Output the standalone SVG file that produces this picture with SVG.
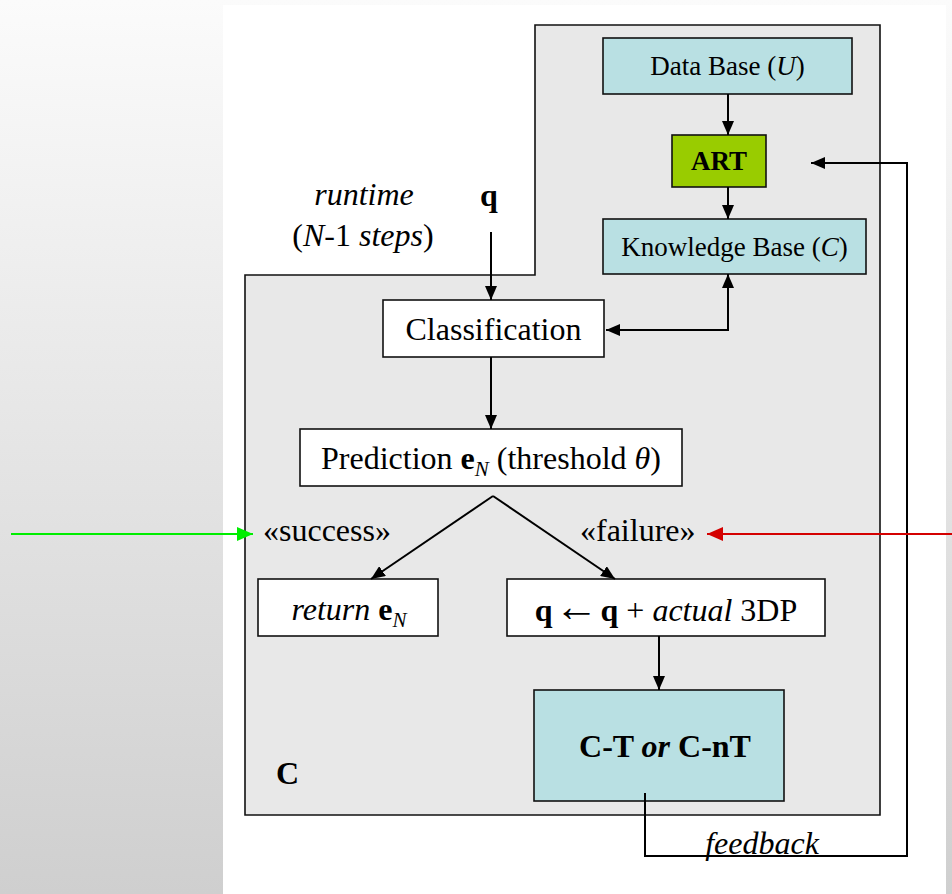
<svg xmlns="http://www.w3.org/2000/svg" width="952" height="894" viewBox="0 0 952 894">
  <defs>
    <linearGradient id="bgGrad" x1="0" y1="0" x2="0" y2="1">
      <stop offset="0" stop-color="#fbfbfb"/>
      <stop offset="1" stop-color="#cfcfcf"/>
    </linearGradient>
    <marker id="arrow" viewBox="0 0 14 12" refX="14" refY="6" markerWidth="14" markerHeight="12" markerUnits="userSpaceOnUse" orient="auto">
      <path d="M0,0 L14,6 L0,12 Z" fill="#000"/>
    </marker>
    <marker id="arrowGreen" viewBox="0 0 16 14" refX="16" refY="7" markerWidth="16" markerHeight="14" markerUnits="userSpaceOnUse" orient="auto">
      <path d="M0,0 L16,7 L0,14 Z" fill="#00ee00"/>
    </marker>
    <marker id="arrowRed" viewBox="0 0 16 14" refX="16" refY="7" markerWidth="16" markerHeight="14" markerUnits="userSpaceOnUse" orient="auto">
      <path d="M0,0 L16,7 L0,14 Z" fill="#d40000"/>
    </marker>
  </defs>
  <style>
    text { font-family: "Liberation Serif", "Times New Roman", serif; fill: #000; }
    .box { fill: #ffffff; stroke: #111; stroke-width: 1.6; }
    .cyan { fill: #b9e0e3; stroke: #111; stroke-width: 1.6; }
    .green { fill: #99cc00; stroke: #111; stroke-width: 1.6; }
    .link { fill: none; stroke: #000; stroke-width: 2; }
    .t27 { font-size: 27px; }
    .t31 { font-size: 32px; }
    .b { font-weight: bold; }
    .i { font-style: italic; }
    .arr { font-size: 44px; font-weight: normal; }
  </style>

  <!-- page background -->
  <rect x="0" y="0" width="952" height="894" fill="url(#bgGrad)"/>
  <rect x="223" y="5" width="723" height="889" fill="#ffffff"/>

  <!-- component C container -->
  <g id="container-C">
    <path d="M245,275 L535,275 L535,25 L880,25 L880,815 L245,815 Z" fill="#e8e8e8" stroke="#111" stroke-width="1.6"/>
    <text class="t31 b" x="276" y="784">C</text>
  </g>

  <g id="runtime-label">
    <text class="t31 i" x="364" y="205" text-anchor="middle">runtime</text>
    <text class="t31" x="363" y="246" text-anchor="middle">(<tspan class="i">N</tspan>-1 <tspan class="i">steps</tspan>)</text>
  </g>

  <g id="query-label">
    <text class="t31 b" x="489" y="206" text-anchor="middle">q</text>
  </g>

  <g id="database">
    <rect class="cyan" x="603" y="38" width="249" height="56"/>
    <text class="t27" x="727.5" y="75" text-anchor="middle">Data Base (<tspan class="i">U</tspan>)</text>
  </g>

  <g id="art">
    <rect class="green" x="672" y="135" width="94" height="52"/>
    <text class="t27 b" x="719" y="170" text-anchor="middle">ART</text>
  </g>

  <g id="knowledge-base">
    <rect class="cyan" x="603" y="219" width="263" height="55"/>
    <text class="t27" x="734.5" y="256" text-anchor="middle">Knowledge Base (<tspan class="i">C</tspan>)</text>
  </g>

  <g id="classification">
    <rect class="box" x="383" y="300" width="221" height="57"/>
    <text class="t31" x="493.5" y="340" text-anchor="middle">Classification</text>
  </g>

  <g id="prediction">
    <rect class="box" x="300" y="429" width="382" height="57"/>
    <text class="t31" x="491" y="469" text-anchor="middle">Prediction <tspan class="b">e</tspan><tspan class="i" font-size="21" dy="7">N</tspan><tspan dy="-7"> (threshold </tspan><tspan class="i">θ</tspan>)</text>
  </g>

  <g id="success-label">
    <text class="t31" x="263" y="541">«success»</text>
  </g>

  <g id="failure-label">
    <text class="t31" x="580" y="541">«failure»</text>
  </g>

  <g id="return">
    <rect class="box" x="258" y="579" width="180" height="57"/>
    <text class="t31" x="349" y="620" text-anchor="middle"><tspan class="i">return</tspan> <tspan class="b">e</tspan><tspan class="i" font-size="21" dy="7">N</tspan></text>
  </g>

  <g id="update-query">
    <rect class="box" x="507" y="579" width="318" height="57"/>
    <text class="t31" x="666" y="621" text-anchor="middle"><tspan class="b">q</tspan><tspan class="arr" dx="2">←</tspan><tspan class="b" dx="2">q</tspan> + <tspan class="i">actual</tspan> 3DP</text>
  </g>

  <g id="ct-cnt">
    <rect class="cyan" x="534" y="690" width="250" height="111"/>
    <text class="t31 b" x="665" y="757" text-anchor="middle">C-T <tspan class="i">or</tspan> C-nT</text>
  </g>

  <g id="feedback-label">
    <text class="t31 i" x="762" y="854" text-anchor="middle">feedback</text>
  </g>

  <!-- connectors -->
  <g id="connectors">
    <line class="link" x1="728" y1="94" x2="728" y2="135" marker-end="url(#arrow)"/>
    <line class="link" x1="728" y1="187" x2="728" y2="219" marker-end="url(#arrow)"/>
    <polyline class="link" points="645,793 645,856 907,856 907,163 811,163" marker-end="url(#arrow)"/>
    <polyline class="link" points="728,288 728,330 606,330" marker-end="url(#arrow)"/>
    <line class="link" x1="728" y1="300" x2="728" y2="274" marker-end="url(#arrow)"/>
    <line class="link" x1="491" y1="232" x2="491" y2="300" marker-end="url(#arrow)"/>
    <line class="link" x1="491" y1="357" x2="491" y2="429" marker-end="url(#arrow)"/>
    <line class="link" x1="493" y1="496" x2="371" y2="579" marker-end="url(#arrow)"/>
    <line class="link" x1="493" y1="496" x2="615" y2="579" marker-end="url(#arrow)"/>
    <line class="link" x1="659" y1="636" x2="659" y2="690" marker-end="url(#arrow)"/>
    <line x1="11" y1="534" x2="253" y2="534" stroke="#00ee00" stroke-width="2" marker-end="url(#arrowGreen)"/>
    <line x1="952" y1="534" x2="707" y2="534" stroke="#d40000" stroke-width="2" marker-end="url(#arrowRed)"/>
  </g>
</svg>
